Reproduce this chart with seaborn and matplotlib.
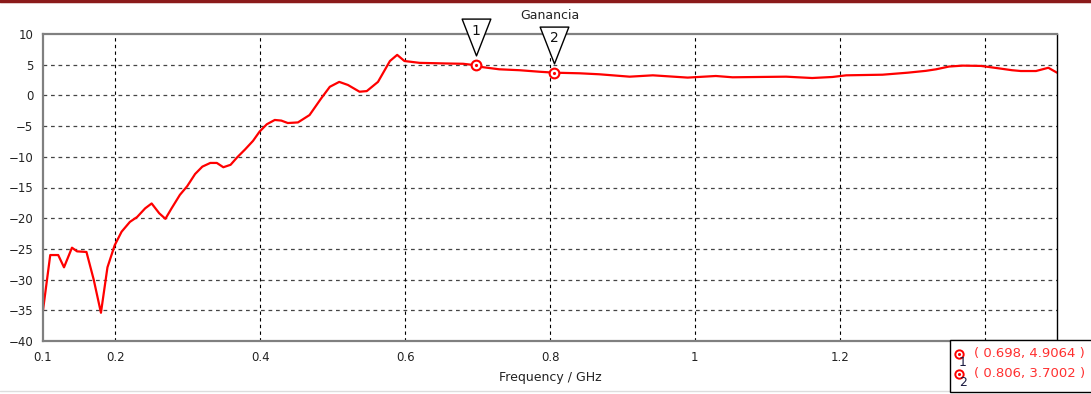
import numpy as np
import pandas as pd
import seaborn as sns
from matplotlib import pyplot as plt
from matplotlib.path import Path
from matplotlib.lines import Line2D
from matplotlib.patches import Rectangle
import matplotlib.transforms as mtransforms

# Ganancia curve
freq = [0.100, 0.110, 0.121, 0.129, 0.140, 0.147, 0.160, 0.170, 0.180, 0.189,
        0.199, 0.2085, 0.220, 0.230, 0.241, 0.250, 0.2605, 0.269, 0.2775, 0.289,
        0.299, 0.310, 0.320, 0.331, 0.340, 0.349, 0.359, 0.368, 0.379, 0.390,
        0.399, 0.409, 0.420, 0.429, 0.438, 0.452, 0.468, 0.484, 0.496, 0.509,
        0.521, 0.537, 0.547, 0.5625, 0.579, 0.589, 0.599, 0.620, 0.657, 0.680,
        0.698, 0.707, 0.730, 0.758, 0.786, 0.806, 0.841, 0.868, 0.910, 0.942,
        0.990, 1.029, 1.052, 1.126, 1.162, 1.190, 1.209, 1.259, 1.294, 1.319,
        1.333, 1.351, 1.370, 1.395, 1.420, 1.438, 1.450, 1.471, 1.488, 1.500]
gain = [-35.0, -26.0, -26.0, -28.0, -24.8, -25.4, -25.5, -30.0, -35.4, -28.0,
        -24.4, -22.2, -20.6, -19.8, -18.4, -17.6, -19.2, -20.1, -18.4, -16.2,
        -14.8, -12.8, -11.6, -11.0, -11.0, -11.7, -11.3, -10.1, -8.8, -7.4,
        -5.9, -4.7, -4.0, -4.1, -4.5, -4.4, -3.2, -0.5, 1.4, 2.2,
        1.7, 0.6, 0.7, 2.2, 5.6, 6.6, 5.6, 5.3, 5.2, 5.15,
        4.9064, 4.6, 4.25, 4.1, 3.85, 3.7002, 3.6, 3.44, 3.05, 3.27,
        2.9, 3.16, 2.95, 3.05, 2.83, 3.0, 3.27, 3.37, 3.7, 4.0,
        4.25, 4.7, 4.85, 4.8, 4.4, 4.1, 3.97, 3.97, 4.5, 3.7]

marker_ids = ['1', '2']
marker_x = [0.698, 0.806]
marker_y = [4.9064, 3.7002]

xticks = [0.1, 0.2, 0.4, 0.6, 0.8, 1.0, 1.2, 1.4]
xticklabels = ['0.1', '0.2', '0.4', '0.6', '0.8', '1', '1.2', '']
yticks = list(range(-40, 11, 5))

df = pd.DataFrame({'freq': freq, 'gain': gain})

sns.set_style('white')
plt.rcParams['font.family'] = ['DejaVu Sans']

fig = plt.figure(figsize=(10.91, 3.94), dpi=100)
ax = fig.add_axes([43 / 1091, 1 - 341 / 394, (1057 - 43) / 1091, (341 - 34) / 394])

sns.lineplot(data=df, x='freq', y='gain', color='red', lw=1.6, estimator=None, ax=ax)

# markers on curve: open circle with a dot in the middle
ax.plot(marker_x, marker_y, 'o', ms=7, mfc='white', mec='red', mew=1.5, zorder=5)
ax.plot(marker_x, marker_y, '.', ms=2.5, color='red', zorder=6)

# downward triangles with the marker number, sitting above each marker
tri = Path([(-0.39, 0.5), (0.39, 0.5), (0.0, -0.5), (-0.39, 0.5)],
           [Path.MOVETO, Path.LINETO, Path.LINETO, Path.CLOSEPOLY])
lift = mtransforms.offset_copy(ax.transData, fig=fig, x=0, y=20, units='points')
ax.plot(marker_x, marker_y, linestyle='none', marker=tri, ms=26.5, mfc='white',
        mec='black', mew=1.0, transform=lift, clip_on=False, zorder=7)
for mid, mx, my in zip(marker_ids, marker_x, marker_y):
    ax.annotate(mid, (mx, my), xytext=(0, 25), textcoords='offset points',
                ha='center', va='center', fontsize=10, color='#111111',
                annotation_clip=False, zorder=8)

ax.set_xlim(0.1, 1.5)
ax.set_ylim(-40, 10)
ax.set_xticks(xticks)
ax.set_xticklabels(xticklabels)
ax.set_yticks(yticks)
ax.tick_params(axis='both', labelsize=8.5, colors='#222222', direction='out',
               length=4, width=1, pad=3)
ax.tick_params(axis='both', color='#555555')

for yv in yticks[1:-1]:
    ax.axhline(yv, color='#444444', lw=0.9, ls=(0, (3, 3)), zorder=1)
for xv in xticks[1:]:
    ax.axvline(xv, color='black', lw=0.8, ls=(0, (3, 3)), zorder=1)

for side in ['left', 'bottom', 'top']:
    ax.spines[side].set_color('#808080')
    ax.spines[side].set_linewidth(1.6)
ax.spines['right'].set_color('black')
ax.spines['right'].set_linewidth(1.0)

ax.set_title('Ganancia', fontsize=9, color='#222222', pad=11)
ax.set_xlabel('Frequency / GHz', fontsize=9, color='#222222', labelpad=5)
ax.set_ylabel('')

# marker readout box in the lower right corner
box = Rectangle((950 / 1091, 2 / 394), 0.2, 52 / 394, transform=fig.transFigure,
                facecolor='white', edgecolor='black', lw=1.0, zorder=20)
fig.add_artist(box)
for i, (mid, mx, my) in enumerate(zip(marker_ids, marker_x, marker_y)):
    yy = 1 - (354 + 20 * i) / 394
    fig.add_artist(Line2D([959 / 1091], [yy], marker='o', ms=6, mfc='white',
                          mec='red', mew=1.4, transform=fig.transFigure, zorder=21))
    fig.add_artist(Line2D([959 / 1091], [yy], marker='.', ms=2.5, color='red',
                          transform=fig.transFigure, zorder=22))
    fig.text(963 / 1091, yy - 9 / 394, mid, fontsize=9, color='#1a1a40',
             ha='center', va='center', zorder=22)
    fig.text(974 / 1091, yy, f'( {mx:.3f}, {my:.4f} )', fontsize=9.5,
             color='#ff3030', ha='left', va='center', zorder=22)

# window border lines
fig.add_artist(Line2D([0, 1], [0.997, 0.997], color='#8b1a1a', lw=2.5,
                      transform=fig.transFigure))
fig.add_artist(Line2D([0, 950 / 1091], [3 / 394, 3 / 394], color='#dddddd', lw=1.0,
                      transform=fig.transFigure))

fig.savefig('out.png', dpi=100)
